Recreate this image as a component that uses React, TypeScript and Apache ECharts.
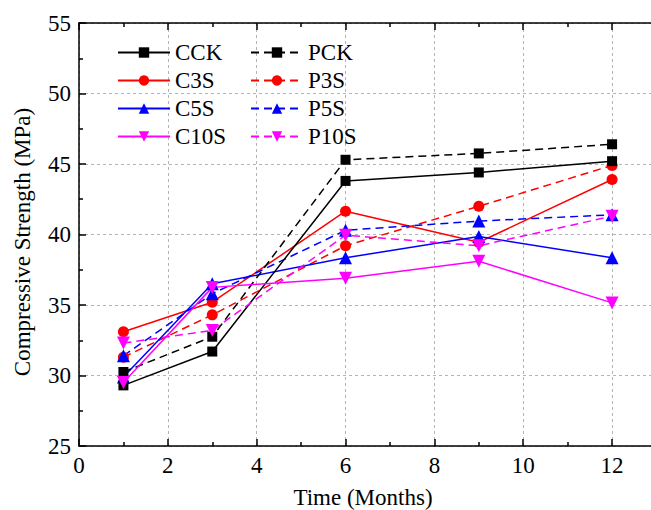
import React, { useEffect, useRef } from "react";
import * as echarts from "echarts";

const months = [1, 3, 6, 9, 12];
const seriesNames = ["CCK", "PCK", "C3S", "P3S", "C5S", "P5S", "C10S", "P10S"];
const cck = [29.3, 31.7, 43.8, 44.4, 45.2];
const pck = [30.25, 32.75, 45.3, 45.75, 46.4];
const c3s = [33.1, 35.2, 41.65, 39.45, 43.9];
const p3s = [31.3, 34.3, 39.2, 42.0, 44.9];
const c5s = [29.9, 36.5, 38.35, 39.85, 38.35];
const p5s = [31.4, 35.8, 40.3, 40.95, 41.4];
const c10s = [29.5, 36.25, 36.9, 38.1, 35.15];
const p10s = [32.3, 33.2, 39.95, 39.2, 41.3];
const legendLeft = ["CCK", "C3S", "C5S", "C10S"];
const legendRight = ["PCK", "P3S", "P5S", "P10S"];
const xTitle = "Time (Months)";
const yTitle = "Compressive Strength (MPa)";

const FONT = "Liberation Serif";

function pairs(vals: number[]) {
  return months.map((m, i) => [m, vals[i]]);
}

export default function App() {
  const ref = useRef<HTMLDivElement>(null);
  useEffect(() => {
    if (!ref.current) return;
    const chart = echarts.init(ref.current, null, { renderer: "svg" });
    const mk = (
      name: string,
      vals: number[],
      color: string,
      symbol: string,
      size: number,
      dashed: boolean,
      rotate = 0
    ) => ({
      name,
      type: "line",
      data: pairs(vals),
      symbol,
      symbolSize: size,
      symbolRotate: rotate,
      itemStyle: { color },
      lineStyle: { color, width: 1.5, type: dashed ? [8, 5] : "solid" },
      emphasis: { disabled: true },
    });
    const axisCommon = {
      type: "value",
      axisLine: { show: true, lineStyle: { color: "#000", width: 1.5 } },
      axisTick: { show: true, inside: true, length: 7, lineStyle: { color: "#000", width: 1.5 } },
      minorTick: { show: true, splitNumber: 2, length: 4, lineStyle: { color: "#000", width: 1.5 } },
    };
    const legendCommon = {
      orient: "vertical",
      top: 41,
      padding: 0,
      itemWidth: 52,
      itemHeight: 13,
      itemGap: 5,
      textStyle: { fontSize: 23, fontFamily: FONT, color: "#000", lineHeight: 23 },
    };
    chart.setOption({
      animation: false,
      textStyle: { fontFamily: FONT },
      grid: { left: 79, right: 3.5, top: 23, bottom: 64 },
      legend: [
        { ...legendCommon, left: 117, data: legendLeft },
        { ...legendCommon, left: 250, data: legendRight },
      ],
      xAxis: [
        {
          ...axisCommon,
          position: "bottom",
          min: 0,
          max: 13,
          interval: 2,
          axisLabel: { fontSize: 23, fontFamily: FONT, color: "#000", margin: 8, showMaxLabel: false },
          splitLine: { show: true, lineStyle: { color: "#b4b4b4", width: 1, type: [3, 3] } },
        },
        {
          ...axisCommon,
          position: "top",
          min: 0,
          max: 13,
          interval: 2,
          axisLabel: { show: false },
          splitLine: { show: false },
        },
      ],
      yAxis: [
        {
          ...axisCommon,
          position: "left",
          min: 25,
          max: 55,
          interval: 5,
          axisLabel: { fontSize: 23, fontFamily: FONT, color: "#000", margin: 8 },
          splitLine: { show: true, lineStyle: { color: "#b4b4b4", width: 1, type: [3, 3] } },
        },
      ],
      graphic: [
        {
          type: "text",
          x: 363,
          y: 497,
          style: {
            text: xTitle,
            fontSize: 23,
            fontFamily: FONT,
            fill: "#000",
            textAlign: "center",
            textVerticalAlign: "middle",
          },
        },
        {
          type: "text",
          x: 22,
          y: 242,
          rotation: Math.PI / 2,
          style: {
            text: yTitle,
            fontSize: 23,
            fontFamily: FONT,
            fill: "#000",
            textAlign: "center",
            textVerticalAlign: "middle",
          },
        },
      ],
      series: [
        mk(seriesNames[2], c3s, "#ff0000", "circle", 11, false),
        mk(seriesNames[3], p3s, "#ff0000", "circle", 11, true),
        mk(seriesNames[4], c5s, "#0000ff", "triangle", 13, false),
        mk(seriesNames[5], p5s, "#0000ff", "triangle", 13, true),
        mk(seriesNames[0], cck, "#000000", "rect", 10, false),
        mk(seriesNames[1], pck, "#000000", "rect", 10, true),
        mk(seriesNames[6], c10s, "#ff00ff", "triangle", 13, false, 180),
        mk(seriesNames[7], p10s, "#ff00ff", "triangle", 13, true, 180),
      ],
    });
    return () => chart.dispose();
  }, []);
  return (
    <div style={{ position: "fixed", left: 0, top: 0, width: 651, height: 510, overflow: "hidden", background: "#fff" }}>
      <div ref={ref} style={{ position: "absolute", left: 0, top: 0, width: 660, height: 510 }} />
    </div>
  );
}
